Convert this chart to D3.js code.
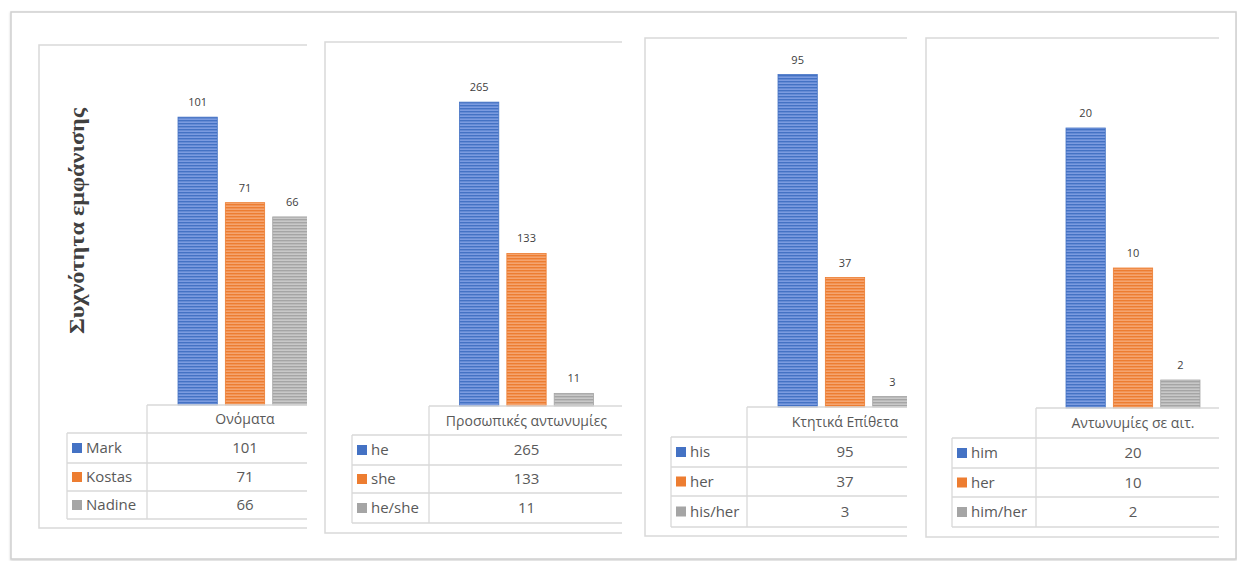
<!DOCTYPE html>
<html><head><meta charset="utf-8">
<script src="https://cdn.jsdelivr.net/npm/d3@7"></script>
<style>
html,body{margin:0;padding:0;background:#fff;}
svg{display:block;}
</style></head>
<body>
<svg id="chart" width="1237" height="561"></svg>
<script>
// ---------- DATA ----------
const yAxisTitle = "Συχνότητα εμφάνισης";
const categories = ["Ονόματα", "Προσωπικές αντωνυμίες", "Κτητικά Επίθετα", "Αντωνυμίες σε αιτ."];
const seriesNames1 = ["Mark", "Kostas", "Nadine"];
const seriesNames2 = ["he", "she", "he/she"];
const seriesNames3 = ["his", "her", "his/her"];
const seriesNames4 = ["him", "her", "him/her"];
const values1 = [101, 71, 66];
const values2 = [265, 133, 11];
const values3 = [95, 37, 3];
const values4 = [20, 10, 2];
const axisMax = [120, 300, 100, 25];

const seriesColors = ["#4472C4", "#ED7D31", "#A5A5A5"];
const lightColors  = ["#7b9be0", "#f5a46f", "#c8c8c8"];

// ---------- LAYOUT ----------
const layout = [
  {x0:39,  y0:45, clipR:307,  bottom:528, base:405, vline:147,  legX:67,  bandR:343,  rows:[433,463,491,519], plotH:342},
  {x0:325, y0:42, clipR:622,  bottom:533, base:406, vline:429,  legX:352, bandR:624,  rows:[435,465,493,523], plotH:344},
  {x0:645, y0:38, clipR:907,  bottom:536, base:407, vline:747,  legX:671, bandR:943,  rows:[437,467,496,527], plotH:350},
  {x0:926, y0:38, clipR:1219, bottom:537, base:408, vline:1036, legX:952, bandR:1230, rows:[438,468,497,527], plotH:350}
];
const panels = [
  {cat:categories[0], names:seriesNames1, vals:values1},
  {cat:categories[1], names:seriesNames2, vals:values2},
  {cat:categories[2], names:seriesNames3, vals:values3},
  {cat:categories[3], names:seriesNames4, vals:values4}
];

const svg = d3.select("#chart");
const defs = svg.append("defs");

// striped bar patterns
seriesColors.forEach((c,i)=>{
  const p = defs.append("pattern").attr("id","pat"+i)
    .attr("patternUnits","userSpaceOnUse").attr("width",6).attr("height",3);
  p.append("rect").attr("width",6).attr("height",3).attr("fill",lightColors[i]);
  p.append("rect").attr("y",0).attr("width",6).attr("height",1.4).attr("fill",c);
});

// shadow filter
const f = defs.append("filter").attr("id","shadow").attr("x","-5%").attr("y","-5%").attr("width","110%").attr("height","110%");
f.append("feDropShadow").attr("dx",0).attr("dy",1).attr("stdDeviation",1.2).attr("flood-color","#000").attr("flood-opacity",0.18);

// outer frame
svg.append("rect").attr("x",11).attr("y",12).attr("width",1225).attr("height",547)
  .attr("fill","#fff").attr("stroke","#cfcfcf").attr("stroke-width",1.5).attr("filter","url(#shadow)");

const fontTable = "'Open Sans', 'Noto Sans', sans-serif";
const gridCol = "#d9d9d9";
const textCol = "#595959";

panels.forEach((pd, pi)=>{
  const L = layout[pi];
  const clipId = "clip"+pi;
  defs.append("clipPath").attr("id",clipId).append("rect")
    .attr("x",L.x0-2).attr("y",L.y0-2).attr("width",L.clipR-L.x0+2).attr("height",L.bottom-L.y0+4);
  const g = svg.append("g").attr("clip-path",`url(#${clipId})`);

  // panel border (left, top, bottom; right is cropped)
  g.append("path")
    .attr("d",`M${L.clipR},${L.y0}H${L.x0}V${L.bottom}H${L.clipR}`)
    .attr("fill","none").attr("stroke",gridCol).attr("stroke-width",1.5);

  // scales
  const x0 = d3.scaleBand().domain([pd.cat]).range([L.vline, L.bandR]);
  const c = x0(pd.cat) + x0.bandwidth()/2;
  const x1 = d3.scaleBand().domain(pd.names).range([c-67, c+67]).paddingInner(0.17);
  const y = d3.scaleLinear().domain([0, axisMax[pi]]).range([L.base, L.base - L.plotH]);

  // bars
  g.selectAll("rect.bar").data(pd.vals).join("rect").attr("class","bar")
    .attr("x",(d,i)=>x1(pd.names[i]))
    .attr("width",x1.bandwidth())
    .attr("y",d=>y(d))
    .attr("height",d=>y(0)-y(d))
    .attr("fill",(d,i)=>`url(#pat${i})`)
    .attr("stroke",(d,i)=>seriesColors[i]).attr("stroke-width",0.8);

  // data labels
  g.selectAll("text.lbl").data(pd.vals).join("text").attr("class","lbl")
    .attr("x",(d,i)=>x1(pd.names[i])+x1.bandwidth()/2)
    .attr("y",d=>y(d)-11)
    .attr("text-anchor","middle")
    .attr("font-family",fontTable).attr("font-size",11).attr("fill","#404040")
    .text(d=>d);

  // data table grid
  const right = L.clipR + 20;
  const tbl = g.append("g").attr("stroke",gridCol).attr("stroke-width",1.3).attr("fill","none");
  tbl.append("line").attr("x1",L.vline).attr("x2",right).attr("y1",L.base).attr("y2",L.base);
  L.rows.forEach(r=>tbl.append("line").attr("x1",L.legX).attr("x2",right).attr("y1",r).attr("y2",r));
  tbl.append("line").attr("x1",L.vline).attr("x2",L.vline).attr("y1",L.base).attr("y2",L.rows[3]);
  tbl.append("line").attr("x1",L.legX).attr("x2",L.legX).attr("y1",L.rows[0]).attr("y2",L.rows[3]);

  // header
  g.append("text").attr("x",c).attr("y",(L.base+L.rows[0])/2)
    .attr("dy","0.36em").attr("text-anchor","middle")
    .attr("font-family",fontTable).attr("font-size",14).attr("fill",textCol)
    .text(pd.cat);

  // rows
  pd.names.forEach((n,i)=>{
    const cy = (L.rows[i]+L.rows[i+1])/2;
    g.append("rect").attr("x",L.legX+5).attr("y",cy-5).attr("width",10).attr("height",10)
      .attr("fill",seriesColors[i]);
    g.append("text").attr("x",L.legX+19).attr("y",cy).attr("dy","0.36em")
      .attr("font-family",fontTable).attr("font-size",15).attr("fill",textCol).text(n);
    g.append("text").attr("x",c).attr("y",cy).attr("dy","0.36em").attr("text-anchor","middle")
      .attr("font-family",fontTable).attr("font-size",15).attr("fill",textCol).text(pd.vals[i]);
  });
});

// y axis title
svg.append("text")
  .attr("transform","translate(77,221) rotate(-90)")
  .attr("text-anchor","middle").attr("dy","0.35em")
  .attr("font-family","'Liberation Serif','DejaVu Serif',serif")
  .attr("font-weight","bold").attr("font-size",21).attr("fill","#404040")
  .attr("textLength",226).attr("lengthAdjust","spacingAndGlyphs")
  .text(yAxisTitle);
</script>
</body></html>
